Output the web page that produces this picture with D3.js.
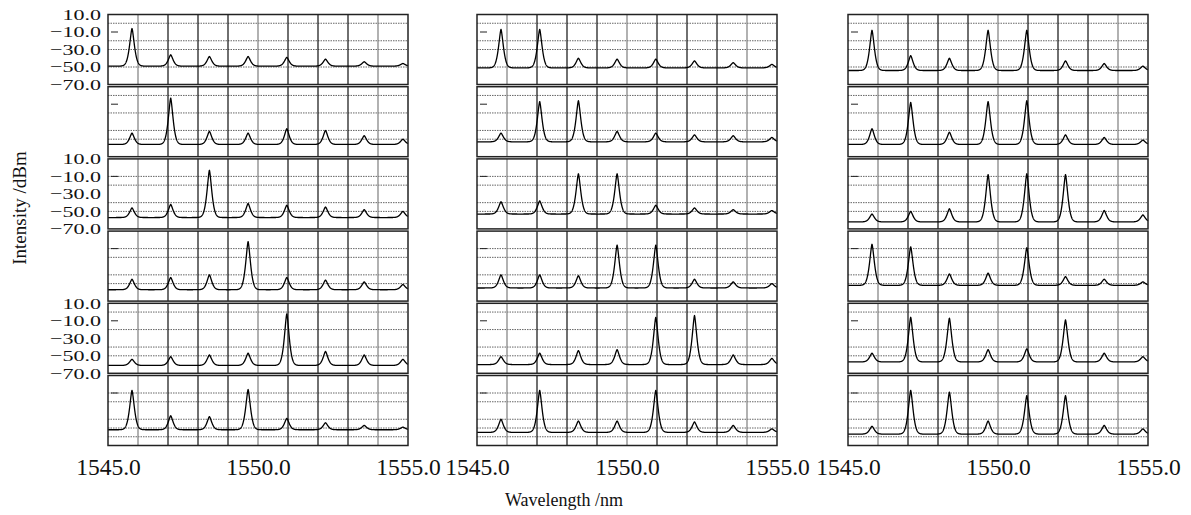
<!DOCTYPE html>
<html>
<head>
<meta charset="utf-8">
<script src="https://cdn.jsdelivr.net/npm/d3@7/dist/d3.min.js"></script>
<style>
  html, body { margin: 0; padding: 0; background: #fff; }
  svg { display: block; }
  text { font-family: "Liberation Serif", "Times New Roman", serif; fill: #111; }
</style>
</head>
<body>
<svg id="chart" width="1191" height="515"></svg>
<script>
// ---- Data ----
// Channel centre wavelengths (nm)
const channels = [1545.80, 1547.09, 1548.38, 1549.67, 1550.96, 1552.25, 1553.54, 1554.83];

// Peak powers (dBm) for each row (top to bottom) of each column
const col1Peaks = [
  [-6, -36, -38, -38, -39, -41, -44, -46],
  [-43, -3, -41, -43, -38, -40, -46, -50],
  [-46, -42, -3, -41, -43, -45, -48, -50],
  [-45, -43, -40, -2, -43, -46, -48, -51],
  [-54, -51, -49, -47, -2, -45, -49, -54],
  [-7, -36, -37, -6, -39, -44, -47, -49]
];
const col2Peaks = [
  [-7, -7, -40, -41, -41, -43, -45, -47],
  [-43, -7, -6, -41, -43, -45, -46, -48],
  [-39, -38, -7, -7, -43, -46, -48, -49],
  [-40, -40, -41, -6, -6, -45, -48, -50],
  [-51, -47, -44, -43, -6, -4, -49, -53],
  [-40, -7, -42, -42, -7, -43, -47, -51]
];
const col3Peaks = [
  [-8, -37, -40, -8, -8, -43, -46, -49],
  [-38, -8, -42, -7, -6, -45, -48, -51],
  [-53, -50, -47, -8, -7, -8, -49, -54],
  [-5, -8, -39, -38, -9, -42, -45, -48],
  [-47, -6, -7, -43, -42, -9, -47, -51],
  [-48, -7, -9, -42, -13, -13, -47, -51]
];
// Noise floor (dBm) for each row of each column
const col1Floor = [-49, -56, -57, -57, -61, -52];
const col2Floor = [-51, -53, -53, -55, -60, -55];
const col3Floor = [-54, -56, -62, -52, -57, -57];

// Axis ticks
const yTickValues = [10, -10, -30, -50, -70];
const xTickValues = [1545, 1550, 1555];
const xDomain = [1545, 1555];
const yDomain = [-70, 10];
const refLevel = -10;                 // small marker at left of each screen
// Dotted horizontal graticule levels (dBm) per row
const rowGridLevels = [
  [0, -20, -30, -50],
  [0, -20, -40, -50],
  [-10, -20, -40, -50],
  [-10, -20, -40, -50],
  [0, -20, -40, -50],
  [-10, -20, -40, -50, -60]
];
const yLabelRows = [0, 2, 4];

// ---- Layout ----
const svg = d3.select("#chart");
const colLefts = [108, 477, 848];
const panelW = 300;
const rowTop0 = 14.5, rowPitch = 72.2, panelH = 70;
const peakWidth = 0.115; // nm, width parameter of the drawn peak shape
const peakPower = 1.5;   // shape exponent of the drawn peak

const columns = [
  {peaks: col1Peaks, floor: col1Floor},
  {peaks: col2Peaks, floor: col2Floor},
  {peaks: col3Peaks, floor: col3Floor}
];

const sampleXs = d3.range(xDomain[0], xDomain[1] + 1e-9, 0.004);

columns.forEach((col, ci) => {
  const left = colLefts[ci];
  const x = d3.scaleLinear().domain(xDomain).range([left, left + panelW]);
  col.peaks.forEach((peaks, ri) => {
    const top = rowTop0 + ri * rowPitch;
    const y = d3.scaleLinear().domain(yDomain).range([top + panelH, top]);
    const g = svg.append("g");
    const floor = col.floor[ri];

    // dotted horizontal graticule
    g.selectAll("line.h").data(rowGridLevels[ri]).join("line")
      .attr("x1", left).attr("x2", left + panelW)
      .attr("y1", d => y(d)).attr("y2", d => y(d))
      .attr("stroke", "#555").attr("stroke-width", 0.9)
      .attr("stroke-dasharray", "1.5,1");

    // vertical graticule (1 nm divisions)
    g.selectAll("line.v").data(d3.range(xDomain[0] + 1, xDomain[1])).join("line")
      .attr("x1", d => x(d)).attr("x2", d => x(d))
      .attr("y1", top).attr("y2", top + panelH)
      .attr("stroke", (d, i) => (i % 4 === 0 ? "#888" : "#222"))
      .attr("stroke-width", 1.3);

    // reference marker
    g.append("line")
      .attr("x1", left + 3).attr("x2", left + 10)
      .attr("y1", y(refLevel)).attr("y2", y(refLevel))
      .attr("stroke", "#222").attr("stroke-width", 1);

    // spectrum trace
    const pts = sampleXs.map(w => {
      let v = floor;
      peaks.forEach((p, k) => {
        const d = Math.abs(w - channels[k]);
        const val = floor + (p - floor) * Math.exp(-Math.pow(d / peakWidth, peakPower));
        if (val > v) v = val;
      });
      return [w, v];
    });
    channels.forEach((c, k) => pts.push([c, peaks[k]]));
    pts.sort((a, b) => a[0] - b[0]);
    g.append("path")
      .datum(pts)
      .attr("fill", "none").attr("stroke", "#000").attr("stroke-width", 1.3)
      .attr("stroke-linejoin", "round")
      .attr("d", d3.line().x(d => x(d[0])).y(d => y(d[1])));

    // frame
    g.append("rect")
      .attr("x", left).attr("y", top).attr("width", panelW).attr("height", panelH)
      .attr("fill", "none").attr("stroke", "#222").attr("stroke-width", 1.5);

    // y-axis labels (first column, alternate rows)
    if (ci === 0 && yLabelRows.includes(ri)) {
      const lab = svg.append("g");
      lab.selectAll("text").data(yTickValues).join("text")
        .attr("transform", d => `translate(${left - 7},${y(d)}) scale(1.42,1)`)
        .attr("text-anchor", "end")
        .attr("dy", "0.34em")
        .attr("font-size", 15.5)
        .text(d => (d < 0 ? "\u2212" + Math.abs(d).toFixed(1) : d.toFixed(1)));
    }
  });

  // x-axis labels under each column
  const xa = d3.axisBottom(x).tickValues(xTickValues).tickSize(0).tickPadding(0)
    .tickFormat(d => d.toFixed(1));
  const xg = svg.append("g").attr("transform", `translate(0,${458})`).call(xa);
  xg.select(".domain").remove();
  xg.selectAll("text")
    .attr("font-family", "Liberation Serif, Times New Roman, serif")
    .attr("font-size", 23.5).attr("fill", "#111").attr("dy", "0.71em");
});

// axis titles
svg.append("text")
  .attr("x", 564).attr("y", 506)
  .attr("text-anchor", "middle").attr("font-size", 18)
  .text("Wavelength /nm");
svg.append("text")
  .attr("transform", "translate(26,208) rotate(-90)")
  .attr("text-anchor", "middle").attr("font-size", 19)
  .text("Intensity /dBm");
</script>
</body>
</html>
